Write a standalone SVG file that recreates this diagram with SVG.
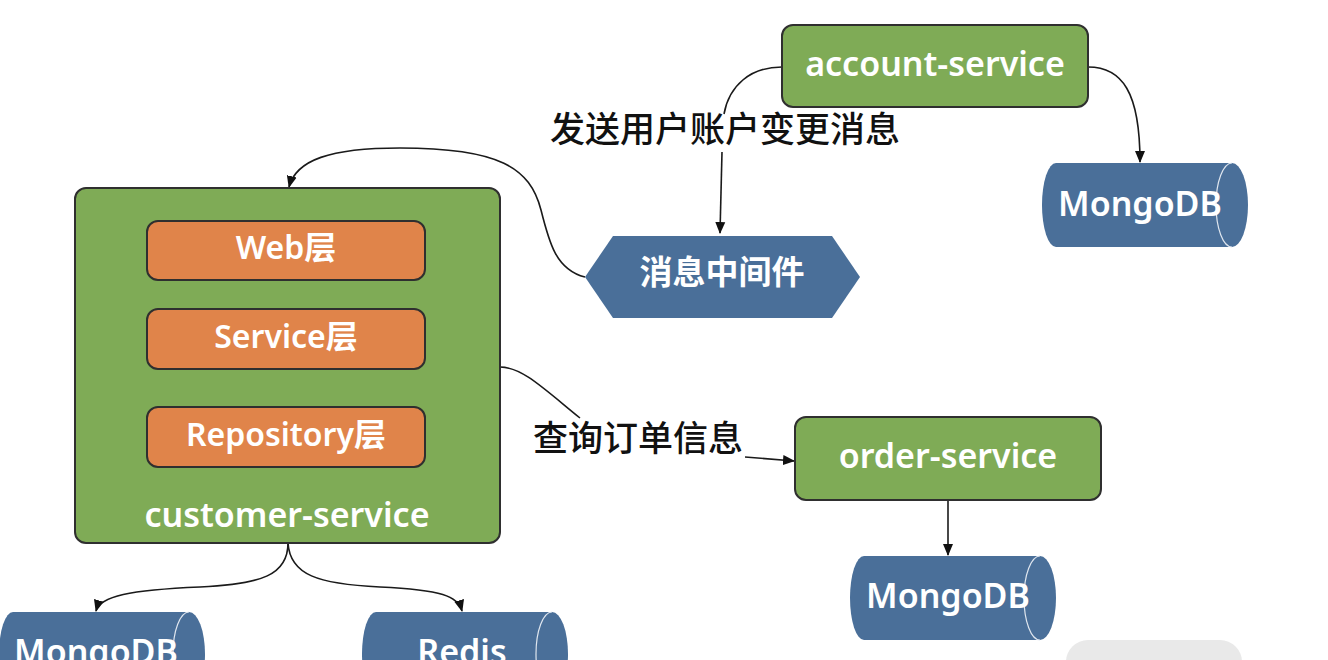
<svg xmlns="http://www.w3.org/2000/svg" width="1328" height="660" viewBox="0 0 1328 660">
<defs>
<style>
.svc{fill:#7fab56;stroke:#2f2f2f;stroke-width:2}
.layer{fill:#e0844a;stroke:#2f2f2f;stroke-width:2}
.db{fill:#4a6f99}
.cap{fill:none;stroke:#dfe6ef;stroke-width:1.2}
.wt{fill:#ffffff;font-family:"Noto Sans","Noto Sans CJK SC",sans-serif;font-weight:600;text-anchor:middle}
.lbl{fill:#111111;font-family:"Noto Sans CJK SC","Noto Sans",sans-serif;font-size:35px;font-weight:500;text-anchor:middle}
.edge{fill:none;stroke:#1a1a1a;stroke-width:1.6}
</style>
<marker id="arrow" viewBox="0 0 12 12" refX="11" refY="6" markerWidth="12" markerHeight="12" orient="auto" markerUnits="userSpaceOnUse">
<path d="M0,1 L12,6 L0,11 Z" fill="#111"/>
</marker>
<path id="cyl" d="M14,0 L190,0 A16,42 0 0 1 190,84 L14,84 A14,42 0 0 1 14,0 Z"/>
<path id="cylcap" d="M190,0 A16,42 0 0 0 190,84"/>
</defs>
<rect width="1328" height="660" fill="#ffffff"/>

<g id="connectors">
<path class="edge" d="M782,67 C750,67 729,86 724,114"/>
<path class="edge" d="M722,152 L720,233" marker-end="url(#arrow)"/>
<path class="edge" d="M1088,67 C1122,67 1140,92 1140,162" marker-end="url(#arrow)"/>
<path class="edge" d="M585,277 C556,270 549,242 541,210 C530,168 500,148 400,148 C330,148 296,160 289,187" marker-end="url(#arrow)"/>
<path class="edge" d="M500,367 C522,367 543,388 580,418"/>
<path class="edge" d="M745,457 L794,461" marker-end="url(#arrow)"/>
<path class="edge" d="M948,500 L948,555" marker-end="url(#arrow)"/>
<path class="edge" d="M288,543 C288,575 262,584 200,587 C130,590 100,596 96,611" marker-end="url(#arrow)"/>
<path class="edge" d="M288,543 C290,575 318,584 380,587 C442,590 458,596 462,611" marker-end="url(#arrow)"/>
<text class="lbl" x="725" y="142">发送用户账户变更消息</text>
<text class="lbl" x="638" y="451">查询订单信息</text>
</g>

<g id="account-service">
<rect class="svc" x="782" y="25" width="306" height="82" rx="11"/>
<text class="wt" x="935" y="76" font-size="34">account-service</text>
</g>

<g id="mongodb-account">
<use href="#cyl" class="db" x="1042" y="163"/>
<use href="#cylcap" class="cap" x="1042" y="163"/>
<text class="wt" x="1140" y="216" font-size="34">MongoDB</text>
</g>

<g id="mq">
<polygon class="db" points="585,277 613,236 832,236 860,277 832,318 613,318"/>
<text class="wt" x="722" y="284" font-size="33" font-weight="bold" font-family="Noto Sans CJK SC, sans-serif">消息中间件</text>
</g>

<g id="customer-service">
<rect class="svc" x="75" y="188" width="425" height="355" rx="11"/>
<rect class="layer" x="147" y="221" width="278" height="59" rx="11"/>
<text class="wt" x="286" y="259" font-size="32">Web层</text>
<rect class="layer" x="147" y="309" width="278" height="60" rx="11"/>
<text class="wt" x="286" y="348" font-size="32">Service层</text>
<rect class="layer" x="147" y="407" width="278" height="60" rx="11"/>
<text class="wt" x="286" y="446" font-size="32">Repository层</text>
<text class="wt" x="287" y="527" font-size="34">customer-service</text>
</g>

<g id="order-service">
<rect class="svc" x="795" y="417" width="306" height="83" rx="11"/>
<text class="wt" x="948" y="468" font-size="34">order-service</text>
</g>

<g id="mongodb-order">
<use href="#cyl" class="db" x="850" y="556"/>
<use href="#cylcap" class="cap" x="850" y="556"/>
<text class="wt" x="948" y="608" font-size="34">MongoDB</text>
</g>

<g id="mongodb-customer">
<use href="#cyl" class="db" x="-1" y="612"/>
<use href="#cylcap" class="cap" x="-1" y="612"/>
<text class="wt" x="96" y="664" font-size="34">MongoDB</text>
</g>

<g id="redis">
<use href="#cyl" class="db" x="362" y="612"/>
<use href="#cylcap" class="cap" x="362" y="612"/>
<text class="wt" x="462" y="664" font-size="34">Redis</text>
</g>

<g id="watermark">
<rect x="1066" y="640" width="176" height="44" rx="22" fill="#e9e9e9"/>
</g>
</svg>
